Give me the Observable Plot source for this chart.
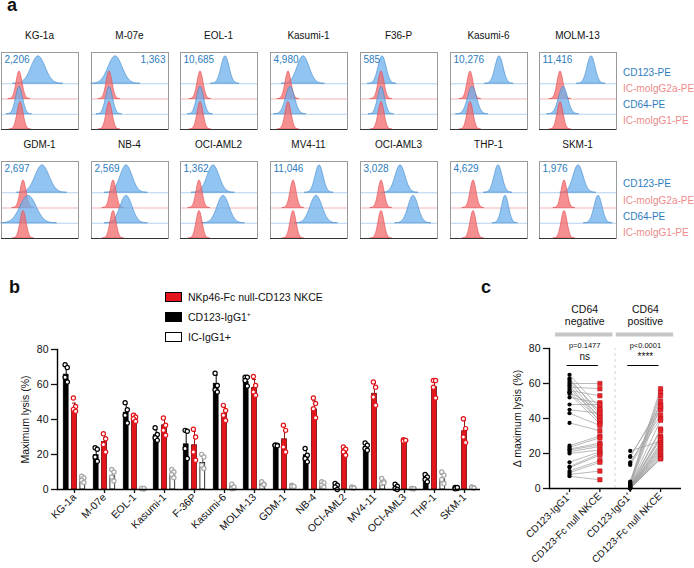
<!DOCTYPE html>
<html><head><meta charset="utf-8">
<script src="https://cdn.jsdelivr.net/npm/d3@7"></script>
<script src="https://cdn.jsdelivr.net/npm/@observablehq/plot@0.6"></script>
<style>
body{margin:0;background:#fff;font-family:"Liberation Sans",Arial,Helvetica,sans-serif;color:#111;}
#fig{position:relative;width:694px;height:568px;overflow:hidden;background:#fff;}
.pl{position:absolute;font-weight:bold;font-size:18px;line-height:8px;height:12px;}
.t{position:absolute;white-space:nowrap;}
.sw{position:absolute;width:15px;height:8px;border:1px solid #000;}
</style></head><body><div id="fig"></div>
<script>
// ---------- Panel a data ----------
const cellLines = ["KG-1a","M-07e","EOL-1","Kasumi-1","F36-P","Kasumi-6","MOLM-13","GDM-1","NB-4","OCI-AML2","MV4-11","OCI-AML3","THP-1","SKM-1"];
const mfiLabels = ["2,206","1,363","10,685","4,980","585","10,276","11,416","2,697","2,569","1,362","11,046","3,028","4,629","1,976"];
const histTracks = ["CD123-PE","IC-moIgG2a-PE","CD64-PE","IC-moIgG1-PE"];
// fluorescence peak location (0-77 display units) and spread, per cell line
const cd123Peak   = [37,24,45,33,22,49,52,41,35,33,49,40,48,39];
const cd123Spread = [7,7,4,6,4,4,4,7,6,6,4,5,4,5];
const icG2aPeak   = [18,18,20,18,21,20,21,22,22,19,23,21,23,25];
const cd64Peak    = [18,18,20,20,21,22,24,27,35,43,46,53,55,59];
const cd64Spread  = [3.5,3.5,3.5,4.5,3.5,4.5,4.5,8,6,6,6,5,3.5,4];
const icG1Peak    = [19,18,20,18,21,20,21,22,22,19,23,21,23,25];
const icSpread = 3;

// ---------- Panel b data ----------
const barLines = ["KG-1a","M-07e","EOL-1","Kasumi-1","F-36P","Kasumi-6","MOLM-13","GDM-1","NB-4","OCI-AML2","MV4-11","OCI-AML3","THP-1","SKM-1"];
const bSeriesNames = ["NKp46-Fc null-CD123 NKCE","CD123-IgG1\u207A","IC-IgG1+"];
const nkceMean = [46,27.2,42,36.7,25.3,43.3,58.1,28.7,45.8,22.4,54.7,28.1,58.5,33.3];
const igg1Mean = [65.6,19.6,43.9,31,25.8,60.4,61.4,25.3,19.6,1.5,24.3,1,7.2,1.1];
const icMean   = [5.9,7.6,0.6,8,15.2,1.5,3,1.9,3.4,1.1,3.8,0.6,5.7,1.1];
const nkcePts = [[52.3,47.5,45.8,44.7],[31.9,29,25.7,21.5],[42.4,41.4,40.5,39],[40.9,36.7,33.8,31],[34.4,30,21.5,16.7],[48.1,45.2,42.4,39.5],[64.6,59.5,55.7,53.8],[36.7,33.8,24.3,21.5],[52.3,49.2,46.2,41],[24.3,23,21.5,19.6],[61.4,58.5,52.8,48.1],[28.5,28.1,27.7,28.1],[62.3,62.3,58.5,52.3],[40.5,34.8,30,26.8]];
const igg1Pts = [[71.3,69.7,64.2,61.4],[23.9,23,18.6,16.2],[49.6,45.6,42.4,38],[35.3,31.4,29.6,28.1],[33.8,33.3,23.4,17.7],[66.5,59.5,57,55.7],[64.2,64.2,62.3,59.1],[25.3,25.3,25.3,25],[23.4,19.6,17.7,15.8],[3.4,2.5,1.5,0],[26.6,25.3,23.4,22.4],[3,1.9,0.6,0],[8.6,7.2,5.7,4.4],[1.1,0.6,0.4,1.1]];
const icPts = [[7.6,6.6,5.3,4],[11.4,10,7.2,4.9],[0.5,0.3,0.8,0.6],[11.4,10,8.6,6.7],[20.1,18.6,13.9,12],[3,0.6,0.4,1.5],[4.4,3,1.5,2.9],[2.5,1.5,1.9,1.8],[4.4,3.8,2.5,1.5],[1.5,1,1,0.8],[6.3,4.4,3.4,3.8],[0.6,0.4,0.6,0.5],[10,8.2,5.7,3.4],[1.5,1,1.1,0.8]];

// ---------- Panel c data ----------
const cGroupLabels = ["CD123-IgG1\u207A","CD123-Fc null NKCE","CD123-IgG1\u207A","CD123-Fc null NKCE"];
const cHeaders = ["CD64\nnegative","CD64\npositive"];
const cPvalues = ["p=0.1477","p<0.0001"];
const cStars = ["ns","****"];
const negIgG1 = [65,63,62,61,60,59,58,57,56,55,55,54,52,48,45,43,37.5,24.5,23.5,22.5,22,21,20,15,12.5,12,10,9,8,7];
const negNKCE = [46,42,44,40,60,38,57,41,53,39,45,37,49,48,43,36,33,30,29,26,25,24,22,21,20,19,16,15,10,5];
const posIgG1 = [21.5,18.5,18,15,14,13.5,4,3.5,3,2.5,2,2,1.5,1.5,1,1,0.8,0.5,0.5,0.3,0.3,0.2,0.2,0.1,0,0,0,0];
const posNKCE = [27,46,48,42,45,40,57,55,53,50,47,39,34,33,30,29,28,26,25,24,23,22,21,20,19,18,17,17];

// ---------- helpers ----------
const FONT = '"Liberation Sans",Arial,Helvetica,sans-serif';
const fig = document.getElementById("fig");
function place(el, left, top, w, h) {
  const d = document.createElement("div");
  d.style.cssText = `position:absolute;left:${left}px;top:${top}px;width:${w}px;height:${h}px;`;
  d.appendChild(el); fig.appendChild(d); return d;
}
function text(txt, left, top, css) {
  const d = document.createElement("div");
  d.className = "t"; d.textContent = txt;
  d.style.cssText += `left:${left}px;top:${top}px;` + (css || "");
  fig.appendChild(d); return d;
}
function plabel(t, left, top) {
  const d = document.createElement("div"); d.className = "pl"; d.textContent = t;
  d.style.left = left + "px"; d.style.top = top + "px"; fig.appendChild(d);
}

// ---------- Panel a ----------
plabel("a", 7, 1);
const BLUE_FILL = "#6cb0ec", BLUE_LINE = "#3c87cc", RED_FILL = "#f36b6b", RED_LINE = "#e2474f";
const PEAK_H = 1.8;
function histPanel(i) {
  const tracks = [
    {name: histTracks[0], base: 3, c: cd123Peak[i], s: cd123Spread[i], blue: true},
    {name: histTracks[1], base: 2, c: icG2aPeak[i], s: icSpread, blue: false},
    {name: histTracks[2], base: 1, c: cd64Peak[i], s: cd64Spread[i], blue: true},
    {name: histTracks[3], base: 0, c: icG1Peak[i], s: icSpread, blue: false}
  ];
  const marks = [
    Plot.ruleY(tracks.slice(0, 3), {y: "base", stroke: d => d.blue ? "#b5d3ee" : "#f3b5b5", strokeWidth: 1})
  ];
  for (const t of tracks) {
    const lo = Math.max(0, t.c - 3.6 * t.s), hi = Math.min(77, t.c + 3.6 * t.s);
    const pts = d3.range(lo, hi + 0.001, 0.5).map(x => ({x, y1: t.base, y2: t.base + PEAK_H * Math.exp(-0.5 * ((x - t.c) / t.s) ** 2)}));
    marks.push(Plot.areaY(pts, {x: "x", y1: "y1", y2: "y2", fill: t.blue ? BLUE_FILL : RED_FILL, fillOpacity: 0.75,
      stroke: t.blue ? BLUE_LINE : RED_LINE, strokeWidth: 0.6}));
  }
  marks.push(Plot.frame({stroke: "#9a9a9a"}));
  marks.push(Plot.ruleY([0], {stroke: "#333", strokeWidth: 1.2}));
  const right = i === 1;
  marks.push(Plot.text([mfiLabels[i]], {frameAnchor: right ? "top-right" : "top-left", text: d => d, dx: right ? -3 : 3, dy: 3,
    textAnchor: right ? "end" : "start", lineAnchor: "top", fill: "#2c7cbd", fontSize: 10}));
  return Plot.plot({width: 79, height: 79, margin: 1, x: {domain: [0, 77], axis: null}, y: {domain: [0, 5.05], axis: null},
    style: {fontFamily: FONT, background: "transparent", overflow: "visible"}, marks});
}
for (let i = 0; i < cellLines.length; i++) {
  const row = Math.floor(i / 7), col = i % 7;
  const left = Math.round(col * 89.7), top = row === 0 ? 51 : 160;
  place(histPanel(i), left, top, 79, 79);
  text(cellLines[i], left, row === 0 ? 30 : 139, `width:79px;text-align:center;font-size:10px;`);
}
const legA = [[73, 89, 105, 121], [184, 201, 217, 233]];
for (const ys of legA) histTracks.forEach((t, k) => text(t, 623, ys[k] - 6, `font-size:10px;line-height:12px;color:${k % 2 === 0 ? "#2c7cbd" : "#f08a8a"};`));

// ---------- Panel b ----------
plabel("b", 9, 283);
const bSw = [["#e3141b", 292], ["#000", 312], ["#fff", 332]];
bSeriesNames.forEach((n, k) => {
  const s = document.createElement("div"); s.className = "sw";
  s.style.cssText += `left:165px;top:${bSw[k][1]}px;background:${bSw[k][0]};`;
  fig.appendChild(s);
  text(n, 188, bSw[k][1] - 1, "font-size:10.5px;line-height:12px;");
});

const bSeries = [
  {mean: igg1Mean, pts: igg1Pts, fill: "#000", stroke: "#000", err: "#000", dot: "#000", dx: -8.3},
  {mean: nkceMean, pts: nkcePts, fill: "#e3141b", stroke: "#6a0808", err: "#9a1010", dot: "#e3141b", dx: 0},
  {mean: icMean, pts: icPts, fill: "#fff", stroke: "#000", err: "#444", dot: "#a6a6a6", dx: 8.3}
];
const bMarks = [];
const jitter = [-1.1, 1.1, -1.1, 1.1];
for (const s of bSeries) {
  const rows = barLines.map((n, i) => ({n, v: s.mean[i], top: s.mean[i] + d3.deviation(s.pts[i])}));
  bMarks.push(Plot.ruleX(rows, {x: "n", y1: "v", y2: "top", dx: s.dx, stroke: s.err, strokeWidth: 1}));
  bMarks.push(Plot.tickY(rows, {x: "n", y: "top", dx: s.dx, insetLeft: 13.1, insetRight: 13.1, stroke: s.err, strokeWidth: 1}));
  bMarks.push(Plot.barY(rows, {x: "n", y: "v", dx: s.dx, insetLeft: 12.6, insetRight: 12.6, fill: s.fill, stroke: s.stroke, strokeWidth: 0.8}));
}
for (const s of bSeries) {
  for (let k = 0; k < 4; k++) {
    const pts = barLines.map((n, i) => ({n, v: s.pts[i][k]}));
    bMarks.push(Plot.dot(pts, {x: "n", y: "v", dx: s.dx + jitter[k], r: 2.1, fill: "#fff", stroke: s.dot, strokeWidth: 1.2}));
  }
}
bMarks.push(Plot.ruleY([0], {stroke: "#000", strokeWidth: 1.4}));
bMarks.push(Plot.frame({anchor: "left", stroke: "#000", strokeWidth: 1.4}));
bMarks.push(Plot.axisY({ticks: [0, 20, 40, 60, 80], tickSize: 6, tickPadding: 3, strokeWidth: 1.3, fontSize: 10.5,
  label: "Maximum lysis (%)", labelAnchor: "center", labelOffset: 36, labelArrow: "none"}));
bMarks.push(Plot.axisX({tickRotate: -45, tickSize: 4, tickPadding: 2, strokeWidth: 1.3, fontSize: 10.5, label: null}));
const plotB = Plot.plot({width: 484, height: 238, marginLeft: 57, marginRight: 4, marginTop: 19, marginBottom: 79,
  x: {domain: barLines, padding: 0}, y: {domain: [0, 80]},
  style: {fontFamily: FONT, fontSize: "10.5px", color: "#111", background: "transparent", overflow: "visible"}, marks: bMarks});
place(plotB, 0, 330, 484, 238);

// ---------- Panel c ----------
plabel("c", 481, 283);
const cPairs = [
  ...negIgG1.map((a, i) => ({x1: 1, x2: 2, a, b: negNKCE[i]})),
  ...posIgG1.map((a, i) => ({x1: 3, x2: 4, a, b: posNKCE[i]}))
];
const cGroups = [{c1: 1, c2: 2, k: 0}, {c1: 3, c2: 4, k: 1}];
const yTop = 80, pxPerUnit = 1.75;
const plotC = Plot.plot({width: 204, height: 278, marginLeft: 59, marginRight: 13, marginTop: 58, marginBottom: 80,
  x: {domain: [0.34, 4.69], axis: null}, y: {domain: [0, 80]},
  style: {fontFamily: FONT, fontSize: "10.5px", color: "#111", background: "transparent", overflow: "visible"},
  marks: [
    Plot.ruleX([2.5], {y1: 0, y2: 80, stroke: "#c8c8c8", strokeDasharray: "3,3", strokeWidth: 0.8}),
    Plot.link(cPairs, {x1: "x1", y1: "a", x2: "x2", y2: "b", stroke: "#9c9c9c", strokeWidth: 0.7}),
    Plot.dot(cPairs, {x: "x1", y: "a", r: 2.1, fill: "#000"}),
    Plot.dot(cPairs, {x: "x2", y: "b", r: 2.5, symbol: "square", fill: "#e8242a", stroke: "#b31017", strokeWidth: 0.5}),
    Plot.ruleY([0], {stroke: "#000", strokeWidth: 1.4}),
    Plot.frame({anchor: "left", stroke: "#000", strokeWidth: 1.4}),
    Plot.axisY({ticks: [0, 20, 40, 60, 80], tickSize: 6, tickPadding: 3, strokeWidth: 1.3, fontSize: 10.5,
      label: "\u0394 maximum lysis (%)", labelAnchor: "center", labelOffset: 36, labelArrow: "none"}),
    Plot.axisX({ticks: [1, 2, 3, 4], tickFormat: d => cGroupLabels[d - 1], tickRotate: -45, tickSize: 4, tickPadding: 2,
      strokeWidth: 1.3, fontSize: 10, label: null}),
    // headers and significance annotations
    Plot.text(cGroups, {x: d => (d.c1 + d.c2) / 2, y: yTop, dy: -33, text: d => cHeaders[d.k], fontSize: 10.5, lineHeight: 1.15}),
    Plot.ruleY(cGroups, {x1: d => d.c1 - 0.46, x2: d => d.c2 + 0.43, y: yTop + 14 / pxPerUnit, stroke: "#c6c6c6", strokeWidth: 4}),
    Plot.text(cGroups, {x: d => (d.c1 + d.c2) / 2, y: yTop, dy: -3, text: d => cPvalues[d.k], fontSize: 7.5}),
    Plot.text(cGroups, {x: d => (d.c1 + d.c2) / 2, y: yTop, dy: 8, text: d => cStars[d.k], fontSize: 10}),
    Plot.ruleY(cGroups, {x1: d => d.c1 - 0.08, x2: d => d.c2 - 0.05, y: yTop - 17 / pxPerUnit, stroke: "#000", strokeWidth: 1})
  ]});
place(plotC, 490, 290, 204, 278);
</script></body></html>
